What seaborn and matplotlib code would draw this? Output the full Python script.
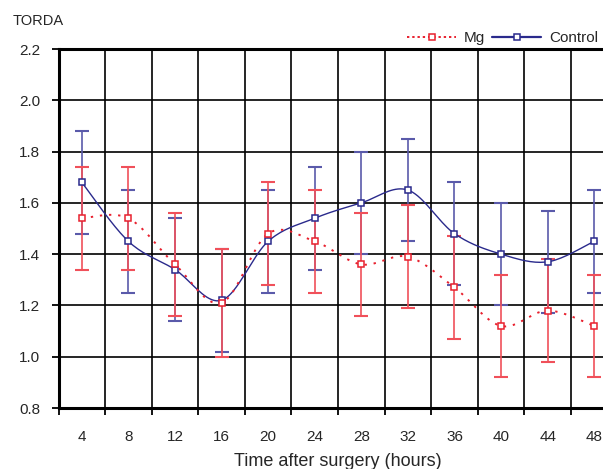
import numpy as np
import pandas as pd
import matplotlib
matplotlib.use("Agg")
import matplotlib.pyplot as plt
from matplotlib.lines import Line2D
import seaborn as sns

# -----------------------------
# Data
# -----------------------------
hours = [4, 8, 12, 16, 20, 24, 28, 32, 36, 40, 44, 48]
mg_mean = [1.54, 1.54, 1.36, 1.21, 1.48, 1.45, 1.36, 1.39, 1.27, 1.12, 1.18, 1.12]
mg_err = [0.20, 0.20, 0.20, 0.21, 0.20, 0.20, 0.20, 0.20, 0.20, 0.20, 0.20, 0.20]
ctrl_mean = [1.68, 1.45, 1.34, 1.22, 1.45, 1.54, 1.60, 1.65, 1.48, 1.40, 1.37, 1.45]
ctrl_err = [0.20, 0.20, 0.20, 0.20, 0.20, 0.20, 0.20, 0.20, 0.20, 0.20, 0.20, 0.20]
y_ticks = [0.8, 1.0, 1.2, 1.4, 1.6, 1.8, 2.0, 2.2]

df = pd.DataFrame({"hours": hours, "mg": mg_mean, "mg_err": mg_err,
                   "ctrl": ctrl_mean, "ctrl_err": ctrl_err})

RED = "#e8202e"
RED_BAR = "#f0505a"
BLUE = "#2a2a8c"
BLUE_BAR = "#5a5aaa"


def smooth(x, y, n=20):
    # Catmull-Rom curve through the points (like a "smoothed line" chart)
    x = np.asarray(x, float)
    y = np.asarray(y, float)
    px = np.concatenate([[x[0]], x, [x[-1]]])
    py = np.concatenate([[y[0]], y, [y[-1]]])
    t = np.linspace(0, 1, n)
    xs, ys = [], []
    for i in range(1, len(px) - 2):
        for p, out in ((px, xs), (py, ys)):
            p0, p1, p2, p3 = p[i - 1], p[i], p[i + 1], p[i + 2]
            out.extend(0.5 * (2 * p1 + (-p0 + p2) * t
                              + (2 * p0 - 5 * p1 + 4 * p2 - p3) * t ** 2
                              + (-p0 + 3 * p1 - 3 * p2 + p3) * t ** 3))
    return np.array(xs), np.array(ys)


sns.set_style("white")
plt.rcParams["font.family"] = ["Liberation Sans", "DejaVu Sans"]

fig = plt.figure(figsize=(6.03, 4.69), dpi=100)
ax = fig.add_axes([58.5 / 603, 1 - 408 / 469, 559 / 603, 359 / 469])

# error bars
ax.errorbar(df["hours"], df["ctrl"], yerr=df["ctrl_err"], fmt="none",
            ecolor=BLUE_BAR, elinewidth=1.2, capsize=5, capthick=1.5, zorder=3)
ax.errorbar(df["hours"], df["mg"], yerr=df["mg_err"], fmt="none",
            ecolor=RED_BAR, elinewidth=1.2, capsize=5, capthick=1.5, zorder=3)

# smoothed lines
cx, cy = smooth(df["hours"], df["ctrl"])
sns.lineplot(x=cx, y=cy, ax=ax, color=BLUE, linewidth=1.0, sort=False,
             estimator=None, zorder=4)
mx, my = smooth(df["hours"], df["mg"])
ax.plot(mx, my, color=RED, linewidth=1.4, linestyle=(0, (1.2, 3.5)), zorder=4)

# markers
ax.plot(df["hours"], df["ctrl"], linestyle="none", marker="s", markersize=4.5,
        mfc="white", mec=BLUE, mew=1.1, zorder=5)
ax.plot(df["hours"], df["mg"], linestyle="none", marker="s", markersize=4.5,
        mfc="white", mec=RED, mew=1.1, zorder=5)

# axes
ax.set_xlim(2, 50)
ax.set_ylim(0.8, 2.2)
ax.set_yticks(y_ticks)
ax.set_yticklabels([f"{v:.1f}" for v in y_ticks])
ax.set_xticks(hours)
ax.set_xticks(np.arange(2, 51, 4), minor=True)
ax.tick_params(axis="x", which="major", length=0, pad=16, labelsize=11)
ax.tick_params(axis="x", which="minor", length=5, width=1.3, color="black",
               direction="out", bottom=True)
ax.tick_params(axis="y", length=5, width=1.3, color="black", direction="out",
               left=True, labelsize=11, pad=8)
ax.grid(False)
ax.grid(True, which="minor", axis="x", color="black", linewidth=1.2)
ax.grid(True, which="major", axis="y", color="black", linewidth=1.2)
ax.set_axisbelow(True)
for side in ["left", "bottom", "top"]:
    ax.spines[side].set_linewidth(2.2)
    ax.spines[side].set_color("black")
ax.spines["right"].set_visible(False)

ax.set_xlabel("Time after surgery (hours)", fontsize=13, labelpad=6)
ax.set_ylabel("")
fig.text(13 / 603, 1 - 21 / 469, "TORDA", fontsize=10.5, va="center", ha="left")

handles = [
    Line2D([], [], color=RED, linewidth=1.4, linestyle=(0, (1.2, 1.5)),
           marker="s", markersize=4.5, mfc="white", mec=RED, mew=1.1),
    Line2D([], [], color=BLUE, linewidth=1.6, marker="s", markersize=4.5,
           mfc="white", mec=BLUE, mew=1.1),
]
fig.legend(handles, ["Mg", "Control"], loc="center right",
           bbox_to_anchor=(598 / 603, 1 - 38 / 469), ncol=2, frameon=False,
           fontsize=11, handlelength=3.2, handletextpad=0.5, columnspacing=0.5,
           borderpad=0, borderaxespad=0)

fig.savefig("out.png", dpi=100)
plt.close(fig)
